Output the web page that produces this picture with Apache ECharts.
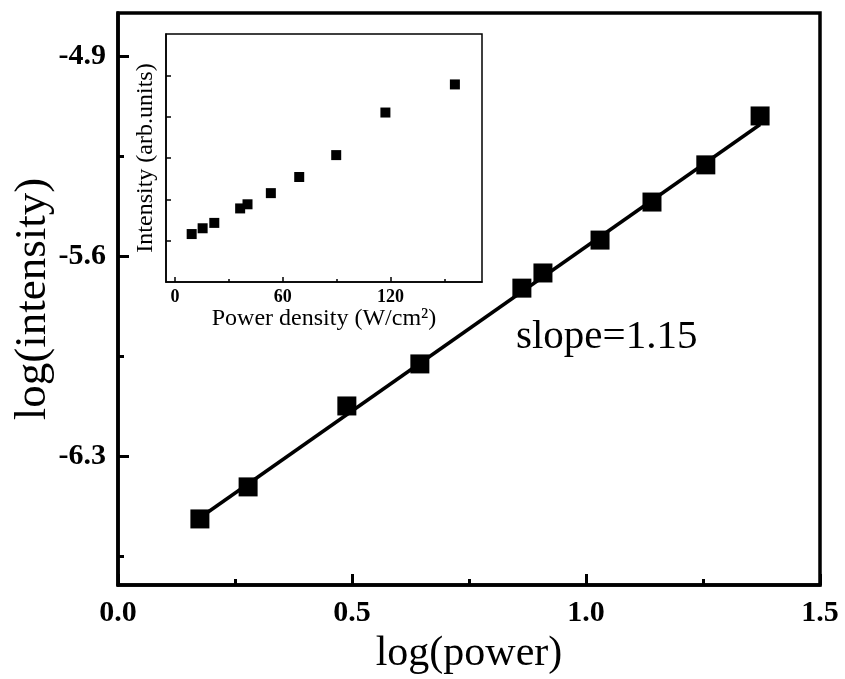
<!DOCTYPE html>
<html>
<head>
<meta charset="utf-8">
<title>log(intensity) vs log(power)</title>
<script src="https://cdn.jsdelivr.net/npm/echarts@6/dist/echarts.min.js"></script>
<style>
  html, body { margin: 0; padding: 0; background: #fff; }
  #chart { width: 845px; height: 679px; }
</style>
</head>
<body>
<div id="chart"></div>
<script>
// Main panel: log-log measurements and the linear fit
const logPower = [0.175, 0.278, 0.489, 0.645, 0.863, 0.908, 1.030, 1.141, 1.256, 1.372];
const logIntensity = [-6.519, -6.407, -6.124, -5.977, -5.712, -5.659, -5.544, -5.411, -5.281, -5.110];
const fitX = [0.175, 1.372];
const fitY = [-6.515, -5.14];
const slopeText = 'slope=1.15';

// Main axis ticks
const mainXLabels = [0, 0.5, 1.0, 1.5];
const mainXMinor = [0.25, 0.75, 1.25];
const mainYLabels = [-6.3, -5.6, -4.9];
const mainYMinor = [-6.65, -5.95, -5.25];

// Inset: linear-scale intensity vs power density
const powerDensity = [9.3, 15.4, 21.9, 36.3, 40.4, 53.4, 69.2, 89.8, 117.2, 155.9];
const insetIntensity = [1.16, 1.30, 1.43, 1.78, 1.88, 2.15, 2.54, 3.07, 4.10, 4.78];
const insetXLabels = [0, 60, 120];
const insetXMinor = [30, 90, 150];
const insetYTicks = [1, 2, 3, 4, 5];

const FONT = '"Liberation Serif", "Times New Roman", serif';

// helper for an axis that only carries extra (shorter) tick marks
function tickOnlyAxis(kind, gridIndex, min, max, values, length, width) {
  const ax = {
    gridIndex, type: 'value', min, max,
    axisLine: { show: false, onZero: false },
    axisTick: { show: true, inside: true, length, customValues: values, lineStyle: { color: '#000', width } },
    axisLabel: { show: false },
    splitLine: { show: false }, z: 6
  };
  ax.position = kind === 'y' ? 'left' : 'bottom';
  return ax;
}

const chart = echarts.init(document.getElementById('chart'), null, { renderer: 'canvas' });

const option = {
  animation: false,
  backgroundColor: '#ffffff',
  grid: [
    { left: 118, right: 25, top: 13, bottom: 94, outerBoundsMode: 'none', containLabel: false,
      show: true, borderColor: '#000', borderWidth: 3.5, backgroundColor: 'transparent' },
    { left: 166, right: 363, top: 34, bottom: 397, outerBoundsMode: 'none', containLabel: false,
      show: true, borderColor: '#000', borderWidth: 1.5, backgroundColor: '#fff', z: 5 }
  ],
  xAxis: [
    {
      gridIndex: 0, type: 'value', min: 0, max: 1.5,
      name: 'log(power)', nameLocation: 'middle', nameGap: 48,
      nameTextStyle: { fontFamily: FONT, fontSize: 42, color: '#000' },
      axisLine: { show: true, onZero: false, lineStyle: { color: '#000', width: 3.5 } },
      axisTick: { show: true, inside: true, length: 11, customValues: mainXLabels, lineStyle: { color: '#000', width: 3 } },
      axisLabel: { margin: 13, fontFamily: FONT, fontWeight: 'bold', fontSize: 30, color: '#000',
        customValues: mainXLabels, formatter: v => v.toFixed(1) },
      splitLine: { show: false }
    },
    tickOnlyAxis('x', 0, 0, 1.5, mainXMinor, 6, 3),
    {
      gridIndex: 1, type: 'value', min: -5, max: 171,
      name: 'Power density (W/cm²)', nameLocation: 'middle', nameGap: 20,
      nameTextStyle: { fontFamily: FONT, fontSize: 24, color: '#000' },
      axisLine: { show: true, onZero: false, lineStyle: { color: '#000', width: 1.5 } },
      axisTick: { show: true, inside: true, length: 5, customValues: insetXLabels, lineStyle: { color: '#000', width: 1.5 } },
      axisLabel: { margin: 6, fontFamily: FONT, fontWeight: 'bold', fontSize: 18, color: '#000', customValues: insetXLabels },
      splitLine: { show: false }, z: 6
    },
    tickOnlyAxis('x', 1, -5, 171, insetXMinor, 3, 1.5)
  ],
  yAxis: [
    {
      gridIndex: 0, type: 'value', min: -6.75, max: -4.75,
      name: 'log(intensity)', nameLocation: 'middle', nameGap: 62, nameMoveOverlap: false,
      nameTextStyle: { fontFamily: FONT, fontSize: 45, color: '#000' },
      axisLine: { show: true, onZero: false, lineStyle: { color: '#000', width: 3.5 } },
      axisTick: { show: true, inside: true, length: 11, customValues: mainYLabels, lineStyle: { color: '#000', width: 3 } },
      axisLabel: { margin: 12, fontFamily: FONT, fontWeight: 'bold', fontSize: 30, color: '#000',
        customValues: mainYLabels, formatter: v => v.toFixed(1) },
      splitLine: { show: false }
    },
    tickOnlyAxis('y', 0, -6.75, -4.75, mainYMinor, 6, 3),
    {
      gridIndex: 1, type: 'value', min: 0, max: 6,
      name: 'Intensity (arb.units)', nameLocation: 'middle', nameGap: 8,
      nameTextStyle: { fontFamily: FONT, fontSize: 24, color: '#000' },
      axisLine: { show: true, onZero: false, lineStyle: { color: '#000', width: 1.5 } },
      axisTick: { show: true, inside: true, length: 5, customValues: insetYTicks, lineStyle: { color: '#000', width: 1.5 } },
      axisLabel: { show: false },
      splitLine: { show: false }, z: 6
    }
  ],
  series: [
    {
      name: 'fit', type: 'line', xAxisIndex: 0, yAxisIndex: 0,
      data: fitX.map((x, i) => [x, fitY[i]]),
      showSymbol: false, symbol: 'none',
      lineStyle: { color: '#000', width: 3.5 }, z: 2
    },
    {
      name: 'log data', type: 'scatter', xAxisIndex: 0, yAxisIndex: 0,
      data: logPower.map((x, i) => [x, logIntensity[i]]),
      symbol: 'rect', symbolSize: 19,
      itemStyle: { color: '#000', opacity: 1 }, z: 3
    },
    {
      name: 'inset data', type: 'scatter', xAxisIndex: 2, yAxisIndex: 2,
      data: powerDensity.map((x, i) => [x, insetIntensity[i]]),
      symbol: 'rect', symbolSize: 10,
      itemStyle: { color: '#000', opacity: 1 }, z: 7
    }
  ],
  graphic: [
    {
      type: 'text', left: 516, top: 317, z: 10,
      style: { text: slopeText, fontFamily: FONT, fontSize: 41, fill: '#000' }
    }
  ]
};

chart.setOption(option);
</script>
</body>
</html>
